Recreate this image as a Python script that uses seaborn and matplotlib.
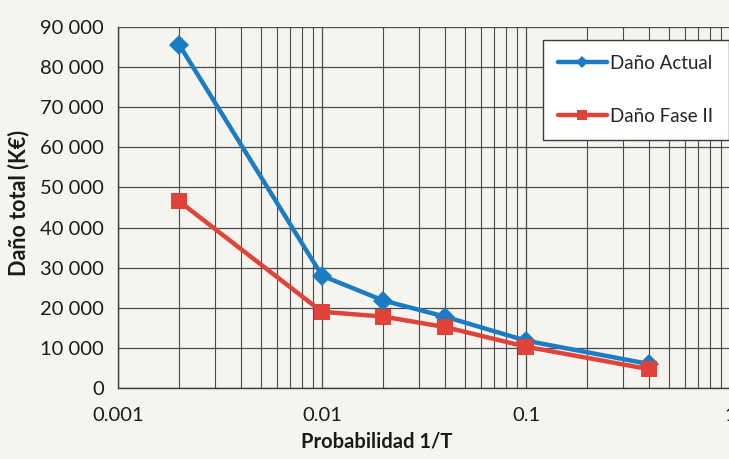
import matplotlib
matplotlib.use("Agg")
import matplotlib.pyplot as plt
import seaborn as sns
import pandas as pd
from matplotlib.ticker import FixedLocator, FuncFormatter, LogLocator, NullFormatter

probabilidad = [0.002, 0.01, 0.02, 0.04, 0.1, 0.4]
dano_actual = [85500, 28000, 21800, 17800, 11800, 6000]
dano_fase2 = [46500, 19000, 17800, 15200, 10300, 4700]
series_names = ["Daño Actual", "Daño Fase II"]
x_tick_values = [0.001, 0.01, 0.1, 1]
x_tick_labels = ["0.001", "0.01", "0.1", "1"]

df = pd.DataFrame({
    "Probabilidad": probabilidad * 2,
    "Daño": dano_actual + dano_fase2,
    "Serie": [series_names[0]] * len(probabilidad) + [series_names[1]] * len(probabilidad),
})

sns.set_style("white")
plt.rcParams["font.family"] = ["Lato", "DejaVu Sans"]

bg = "#f6f4ef"
fig = plt.figure(figsize=(7.29, 4.59), dpi=100, facecolor=bg)
ax = fig.add_axes([118 / 729, 71 / 459, 612 / 729, 361 / 459])
ax.set_facecolor(bg)

palette = {"Daño Actual": "#1b7cc3", "Daño Fase II": "#e0433a"}
markers = {"Daño Actual": "D", "Daño Fase II": "s"}
sizes_map = {"Daño Actual": 10, "Daño Fase II": 12}

for name in series_names:
    sub = df[df["Serie"] == name]
    sns.lineplot(data=sub, x="Probabilidad", y="Daño", ax=ax, color=palette[name],
                 marker=markers[name], markersize=sizes_map[name], markeredgewidth=0,
                 linewidth=3.2, label=name, zorder=3)

ax.set_xscale("log")
ax.set_xlim(0.001, 1)
ax.set_ylim(0, 90000)
ax.set_yticks(range(0, 90001, 10000))
ax.yaxis.set_major_formatter(FuncFormatter(lambda v, p: f"{int(v):,}".replace(",", " ")))
ax.xaxis.set_major_locator(FixedLocator(x_tick_values))
ax.set_xticklabels(x_tick_labels)
ax.xaxis.set_minor_locator(LogLocator(base=10, subs=range(2, 10)))
ax.xaxis.set_minor_formatter(NullFormatter())

grid_c = "#4a4a4a"
ax.grid(True, which="major", axis="both", color=grid_c, linewidth=0.9)
ax.grid(True, which="minor", axis="x", color=grid_c, linewidth=0.8)
ax.set_axisbelow(True)

for s in ["top", "right"]:
    ax.spines[s].set_visible(False)
for s in ["left", "bottom"]:
    ax.spines[s].set_color("#3a3a3a")
    ax.spines[s].set_linewidth(1.0)

ax.tick_params(axis="both", which="major", direction="out", length=6, width=1,
               color="#3a3a3a", labelsize=14.5, labelcolor="#1a1a1a", pad=4)
ax.tick_params(axis="x", which="minor", length=0)
ax.tick_params(axis="x", which="major", pad=8)

ax.set_xlabel("Probabilidad 1/T", fontsize=14.5, fontweight="bold", color="#1a1a1a")
ax.xaxis.set_label_coords((377 - 118) / 612, (388 - 441) / 361)
ax.xaxis.label.set_va("center")
ax.set_ylabel("")
fig.text(19 / 729, 1 - 203 / 459, "Daño total (K€)", rotation=90, ha="center", va="center",
         fontsize=15.5, fontweight="bold", color="#1a1a1a")

leg = ax.legend(loc="upper left", bbox_to_anchor=((543 - 118) / 612, (388 - 40) / 361),
                borderaxespad=0, frameon=True, fancybox=False, fontsize=13.5, labelspacing=1.9,
                handlelength=2.6, handletextpad=0.2, borderpad=0.8, markerscale=0.6)
leg.get_frame().set_edgecolor("#3a3a3a")
leg.get_frame().set_facecolor("white")
leg.get_frame().set_linewidth(1.0)
leg.get_frame().set_alpha(1)

fig.savefig("out.png", dpi=100, facecolor=bg)
